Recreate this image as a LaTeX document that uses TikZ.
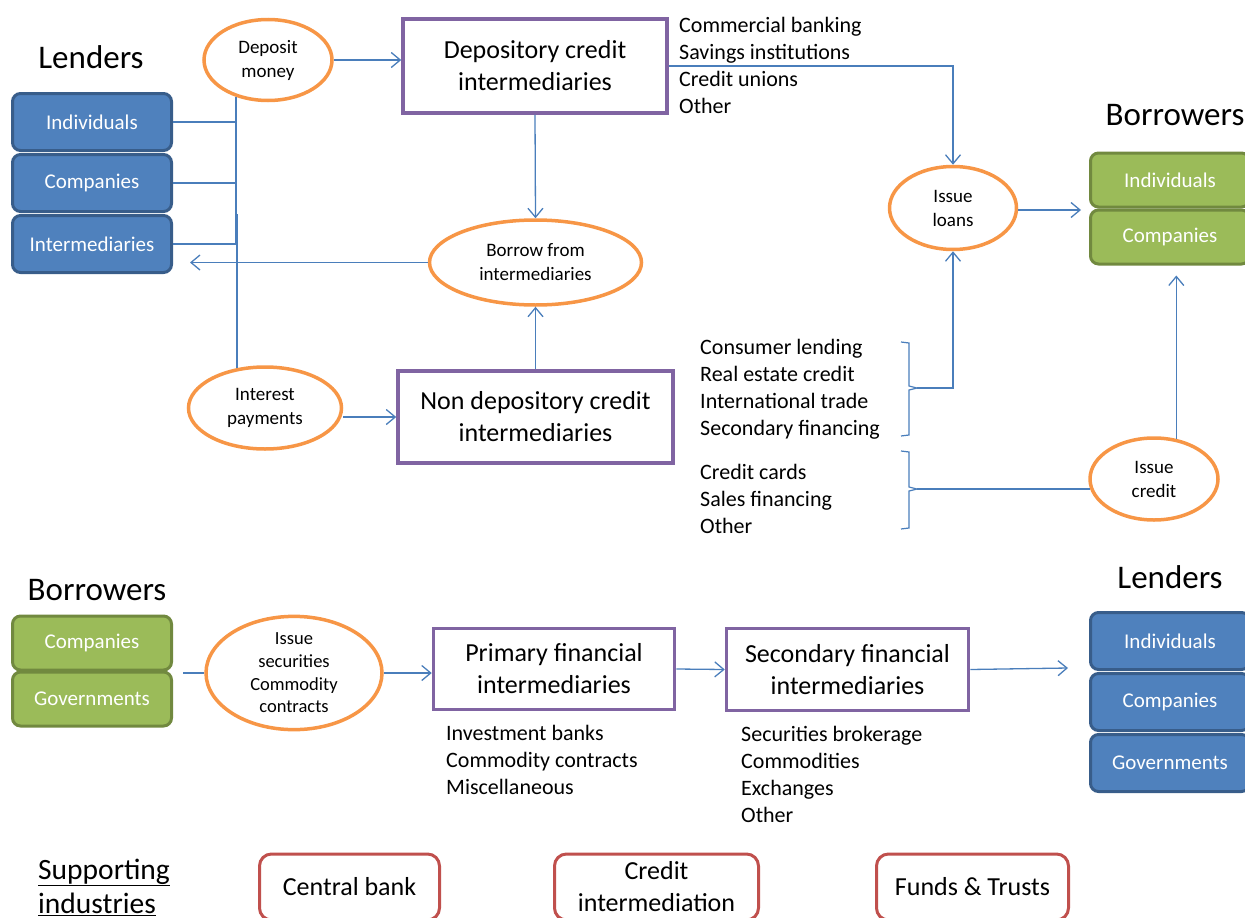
\documentclass[tikz,border=0pt]{standalone}
\usepackage{fontspec}
\setmainfont{Carlito}
\usetikzlibrary{shapes.geometric,arrows.meta,calc}
\definecolor{cblue}{HTML}{4F81BD}
\definecolor{cbluedk}{HTML}{385D8A}
\definecolor{cgreen}{HTML}{9BBB59}
\definecolor{cgreendk}{HTML}{71893F}
\definecolor{corange}{HTML}{F79646}
\definecolor{cpurple}{HTML}{8064A2}
\definecolor{cred}{HTML}{C0504D}
\definecolor{cline}{HTML}{4A7EBB}
\tikzset{
  conn/.style={draw=cline, line width=1.3pt},
  arr/.style={draw=cline, line width=1.3pt, -{Straight Barb[length=9pt,width=15pt]}},
  bluebox/.style={rectangle, rounded corners=8pt, fill=cblue, draw=cbluedk, line width=3pt,
    minimum width=159pt, minimum height=57pt, text=white, inner sep=0pt,
    font=\fontsize{21}{25}\selectfont},
  greenbox/.style={rectangle, rounded corners=8pt, fill=cgreen, draw=cgreendk, line width=3pt,
    minimum width=159pt, minimum height=54pt, text=white, inner sep=0pt,
    font=\fontsize{21}{25}\selectfont},
  oval/.style={ellipse, draw=corange, line width=3.5pt, fill=white, inner sep=0pt,
    align=center, font=\fontsize{19}{24}\selectfont},
  pbox/.style={rectangle, draw=cpurple, line width=3.5pt, fill=white, align=center, inner sep=0pt,
    font=\fontsize{26}{32}\selectfont},
  rbox/.style={rectangle, rounded corners=12pt, draw=cred, line width=3pt, fill=white,
    align=center, inner sep=0pt, font=\fontsize{26}{32}\selectfont},
  titletext/.style={inner sep=0pt, font=\fontsize{33}{40}\selectfont},
  listtext/.style={align=left, anchor=west, inner sep=0pt, font=\fontsize{22}{27}\selectfont},
}
\begin{document}
\begin{tikzpicture}[x=1pt,y=-1pt]
\useasboundingbox (0,0) rectangle (1245,918);
\clip (0,0) rectangle (1245,918);

% ---------- top section ----------
\node[titletext] (lend1) at (91,57) {Lenders};
\node[bluebox] (l1ind) at (92,122) {Individuals};
\node[bluebox] (l1com) at (92,183) {Companies};
\node[bluebox] (l1int) at (92,244) {Intermediaries};

\node[oval, minimum width=128pt, minimum height=81pt] (dep) at (268,60) {Deposit\\money};
\node[pbox, minimum width=264pt, minimum height=94pt] (dci) at (535,66) {Depository credit\\intermediaries};
\node[listtext] (dcil) at (679,65.5) {Commercial banking\\Savings institutions\\Credit unions\\Other};

\node[oval, minimum width=212pt, minimum height=85pt] (bor) at (535.5,262.5) {Borrow from\\intermediaries};
\node[pbox, minimum width=275pt, minimum height=92pt] (ndi) at (535.5,417) {Non depository credit\\intermediaries};
\node[oval, minimum width=153pt, minimum height=82pt] (intp) at (265,408) {Interest\\payments};

\node[oval, minimum width=127pt, minimum height=83pt] (loans) at (953,208) {Issue\\loans};
\node[titletext] (bor1) at (1175,115) {Borrowers};
\node[greenbox] (b1ind) at (1170,180) {Individuals};
\node[greenbox] (b1com) at (1170,237) {Companies};

\node[listtext] (nl1) at (700,389) {Consumer lending\\Real estate credit\\International trade\\Secondary financing};
\node[listtext] (nl2) at (700,499) {Credit cards\\Sales financing\\Other};
\node[oval, minimum width=128pt, minimum height=82pt] (cred) at (1154,479) {Issue\\credit};

% braces
\coordinate (br1tip) at (917,388);
\coordinate (br2tip) at (917,489);
\draw[conn, line width=1.2pt] (901,342) -- (909,343) -- (909,386) -- (br1tip) -- (909,390) -- (909,435) -- (901,436);
\draw[conn, line width=1.2pt] (901,451) -- (909,452) -- (909,487) -- (br2tip) -- (909,491) -- (909,528) -- (901,529);

% top connectors
\draw[conn] (dep.229) -- (dep.229 |- l1int.east);
\draw[conn] (l1ind.east) -- (l1ind.east -| dep.229);
\draw[conn] (l1com.east) -- (l1com.east -| dep.229);
\draw[conn] (l1int.east) -- (l1int.east -| dep.229);
\draw[conn] (intp.125) -- (intp.125 |- l1int.north);
\draw[arr] (dep.east) -- (dep.east -| dci.west);
\draw[arr] (dci.east) -| (loans.north);
\draw[arr] (dci.south) -- (bor.north);
\draw[arr] (ndi.north) -- (bor.south);
\coordinate (bortip) at (190,262.5);
\draw[arr] (bor.west) -- (bortip);
\draw[arr] (intp.east |- ndi.west) -- (ndi.west);
\coordinate (loanstip) at (1081,210);
\draw[arr] (loans.east |- loanstip) -- (loanstip);
\draw[arr] (br1tip) -| (loans.south);
\draw[conn] (cred.189) -- (cred.189 -| br2tip);
\draw[arr, shorten >=10pt] (cred.61) -- (cred.61 |- b1com.south);

% ---------- bottom section ----------
\node[titletext] (bor2) at (97,590) {Borrowers};
\node[greenbox] (b2com) at (92,643) {Companies};
\node[greenbox] (b2gov) at (92,699) {Governments};
\node[oval, minimum width=176pt, minimum height=108pt, font=\fontsize{18.5}{22.7}\selectfont] (sec) at (294,673) {Issue\\securities\\Commodity\\contracts};
\node[pbox, minimum width=241pt, minimum height=81pt] (pfi) at (554,669) {Primary financial\\intermediaries};
\node[listtext] (pfil) at (446,760) {Investment banks\\Commodity contracts\\Miscellaneous};
\node[pbox, minimum width=242pt, minimum height=82pt] (sfi) at (847.5,669.5) {Secondary financial\\intermediaries};
\node[listtext] (sfil) at (741,774.5) {Securities brokerage\\Commodities\\Exchanges\\Other};
\node[titletext] (lend2) at (1170,577) {Lenders};
\node[bluebox] (l2ind) at (1170,641) {Individuals};
\node[bluebox] (l2com) at (1170,702) {Companies};
\node[bluebox] (l2gov) at (1170,763) {Governments};

\draw[conn] ([xshift=10pt]b2com.south east |- sec.west) -- (sec.west);
\draw[arr] (sec.east) -- (sec.east -| pfi.west);
\draw[arr] (pfi.east) -- (sfi.west);
\coordinate (sfitip) at (1068,668);
\draw[arr] (sfi.east) -- (sfitip);

% ---------- supporting industries ----------
\node[anchor=west, align=left, inner sep=0pt, font=\fontsize{29.5}{34}\selectfont] (sup) at (38,887) {\underline{Supporting}\\\underline{industries}};
\node[rbox, minimum width=180pt, minimum height=66pt] (cb) at (349.5,887) {Central bank};
\node[rbox, minimum width=204pt, minimum height=66pt] (ci) at (656.5,887) {Credit\\intermediation};
\node[rbox, minimum width=192pt, minimum height=66pt] (ft) at (972.5,887) {Funds \& Trusts};
\end{tikzpicture}
\end{document}
